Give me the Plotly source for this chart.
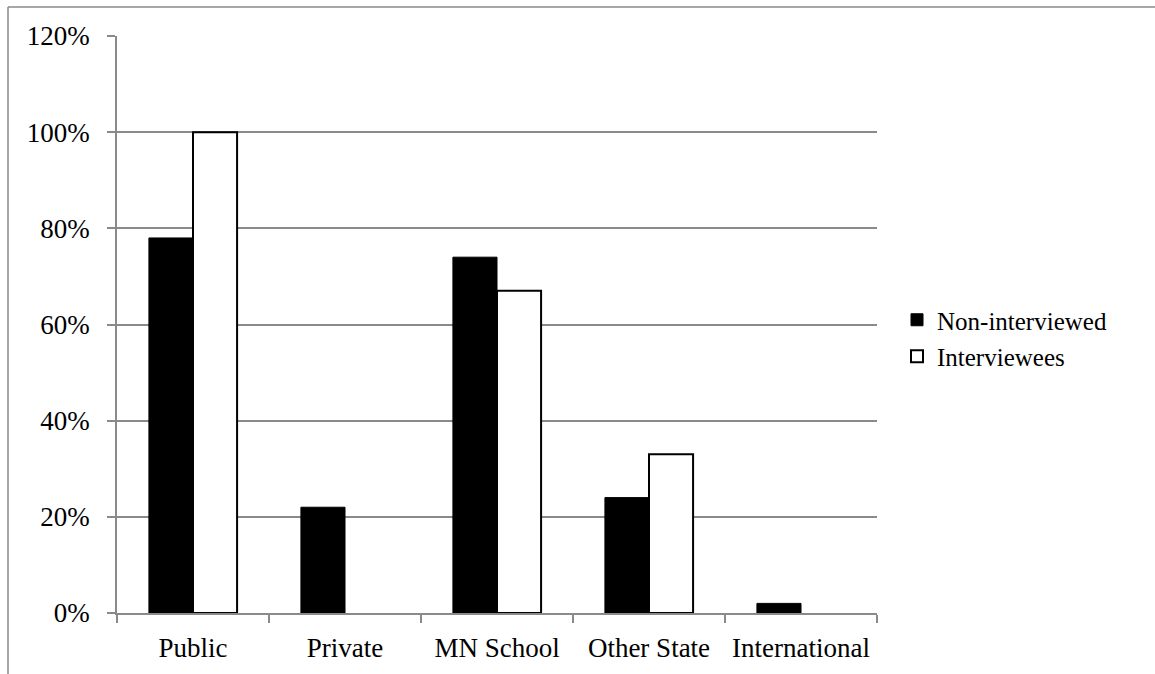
import plotly.graph_objects as go

categories = ["Public", "Private", "MN School", "Other State", "International"]
non_interviewed = [0.78, 0.22, 0.74, 0.24, 0.02]
interviewees = [1.00, 0.0, 0.67, 0.33, 0.0]
y_ticks = [0, 0.2, 0.4, 0.6, 0.8, 1.0, 1.2]

W, H = 1155, 674
L, R, T, B = 117, 877, 36, 613
FONT = "Liberation Serif"
FS = 27
GRID = "#8a8a8a"

fig = go.Figure()
fig.add_trace(go.Bar(
    x=categories, y=non_interviewed, name="Non-interviewed",
    marker=dict(color="black", line=dict(color="black", width=1)),
    legendgroup="a",
))
# empty (zero) bars get no outline so nothing is drawn on the baseline
fig.add_trace(go.Bar(
    x=categories, y=interviewees, name="Interviewees",
    marker=dict(color="white",
                line=dict(color="black", width=[2 if v > 0 else 0 for v in interviewees])),
    legendgroup="b",
))

pw, ph = R - L, B - T


def px_x(x):
    return (x - L) / pw


def px_y(y):
    return (B - y) / ph


# outer chart frame (top and left edges)
fig.add_shape(type="line", xref="paper", yref="paper",
              x0=px_x(8), x1=px_x(W + 5), y0=px_y(7), y1=px_y(7),
              line=dict(color=GRID, width=1.5))
fig.add_shape(type="line", xref="paper", yref="paper",
              x0=px_x(8), x1=px_x(8), y0=px_y(7), y1=px_y(H + 5),
              line=dict(color=GRID, width=1.5))

fig.update_layout(
    width=W, height=H,
    margin=dict(l=L, r=W - R, t=T, b=H - B),
    paper_bgcolor="white", plot_bgcolor="white",
    font=dict(family=FONT, size=FS, color="black"),
    barmode="group", bargap=0.42, bargroupgap=0,
    showlegend=True,
    legend=dict(
        x=px_x(897), y=px_y(297), xanchor="left", yanchor="top",
        traceorder="grouped", tracegroupgap=1,
        font=dict(family=FONT, size=25, color="black"),
        itemwidth=30,
    ),
)
fig.update_xaxes(
    showline=True, linecolor=GRID, linewidth=1.5,
    ticks="outside", tickson="boundaries", ticklen=8, tickcolor=GRID, tickwidth=1.5,
    ticklabelstandoff=10,
    showgrid=False,
)
fig.update_yaxes(
    range=[0, 1.2], tickvals=y_ticks, tickformat=".0%",
    showline=True, linecolor=GRID, linewidth=1.5,
    ticks="outside", ticklen=8, tickcolor=GRID, tickwidth=1.5,
    ticklabelstandoff=12,
    showgrid=True, gridcolor=GRID, gridwidth=1.5,
    zeroline=False,
)

fig.write_html("out.html")
